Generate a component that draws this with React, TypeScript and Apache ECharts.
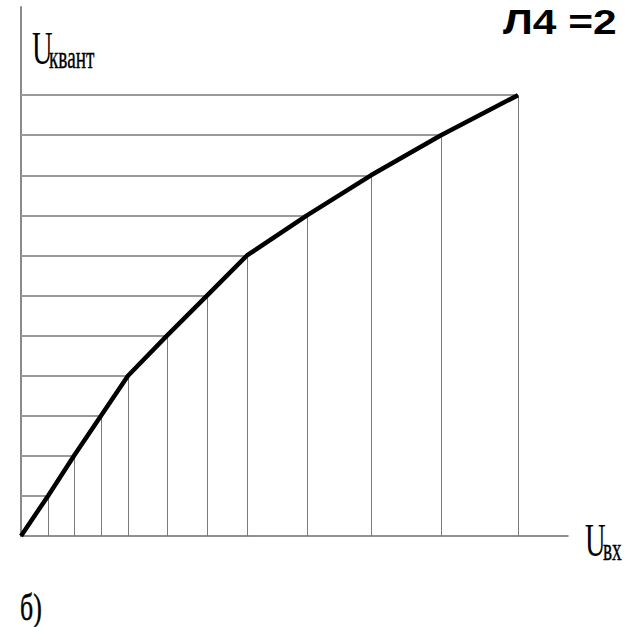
import React, { useEffect, useRef } from "react";
import * as echarts from "echarts";

// Quantizer characteristic: input voltage at each quantization level
const levels = [1, 2, 3, 4, 5, 6, 7, 8, 9, 10, 11];
const inputs = [5.4, 10.6, 16, 21.4, 29.2, 37.2, 45.2, 57.2, 70, 84, 99.4];
const xMax = 109.4;
const yMax = 13.2;

const yTitle = "U";
const yTitleSub = "квант";
const xTitle = "U";
const xTitleSub = "вх";
const caption = "б)";
const header = "Л4 =2";

export default function App() {
  const ref = useRef<HTMLDivElement>(null);
  useEffect(() => {
    if (!ref.current) return;
    const chart = echarts.init(ref.current, null, { renderer: "svg" });
    const pts = inputs.map((x, i) => [x, levels[i]]);
    const curve = [[0, 0], ...pts];
    const serif = "Liberation Serif, DejaVu Serif, serif";
    chart.setOption({
      animation: false,
      backgroundColor: "#ffffff",
      grid: { left: 21, top: 7, right: 70, bottom: 91 },
      xAxis: {
        type: "value",
        min: 0,
        max: xMax,
        axisLine: { show: true, lineStyle: { color: "#6e6e6e", width: 1.5 } },
        axisTick: { show: false },
        axisLabel: { show: false },
        splitLine: { show: false },
      },
      yAxis: {
        type: "value",
        min: 0,
        max: yMax,
        axisLine: { show: true, lineStyle: { color: "#8a8a8a", width: 2 } },
        axisTick: { show: false },
        axisLabel: { show: false },
        splitLine: { show: false },
      },
      series: [
        {
          type: "line",
          data: [],
          silent: true,
          markLine: {
            silent: true,
            symbol: "none",
            label: { show: false },
            lineStyle: { color: "#9a9a9a", width: 2, type: "solid" },
            data: pts.map((p) => [{ coord: [0, p[1]] }, { coord: p }]),
          },
        },
        {
          type: "line",
          data: [],
          silent: true,
          markLine: {
            silent: true,
            symbol: "none",
            label: { show: false },
            lineStyle: { color: "#7a7a7a", width: 1, type: "solid" },
            data: pts.map((p) => [{ coord: [p[0], 0] }, { coord: p }]),
          },
        },
        {
          type: "line",
          data: curve,
          symbol: "none",
          silent: true,
          lineStyle: { color: "#000000", width: 4.5 },
          z: 5,
        },
      ],
      graphic: [
        {
          type: "text",
          x: 32,
          y: 25,
          scaleX: 0.62,
          style: { text: yTitle, font: `46px ${serif}`, fill: "#000" },
        },
        {
          type: "text",
          x: 49,
          y: 42,
          scaleX: 0.62,
          style: { text: yTitleSub, font: `31px ${serif}`, fill: "#000", stroke: "#000", lineWidth: 0.4 },
        },
        {
          type: "text",
          x: 585,
          y: 517,
          scaleX: 0.62,
          style: { text: xTitle, font: `46px ${serif}`, fill: "#000" },
        },
        {
          type: "text",
          x: 603,
          y: 534,
          scaleX: 0.62,
          style: { text: xTitleSub, font: `31px ${serif}`, fill: "#000", stroke: "#000", lineWidth: 0.4 },
        },
        {
          type: "text",
          x: 20,
          y: 588,
          scaleX: 0.68,
          style: { text: caption, font: `38px ${serif}`, fill: "#000", stroke: "#000", lineWidth: 0.5 },
        },
        {
          type: "text",
          x: 503,
          y: 3,
          scaleX: 1.18,
          style: {
            text: header,
            font: "bold 36px Liberation Sans, Arial, sans-serif",
            fill: "#000",
          },
        },
      ],
    });
    return () => chart.dispose();
  }, []);
  return (
    <div
      ref={ref}
      style={{ position: "fixed", left: 0, top: 0, width: 638, height: 627 }}
    />
  );
}
